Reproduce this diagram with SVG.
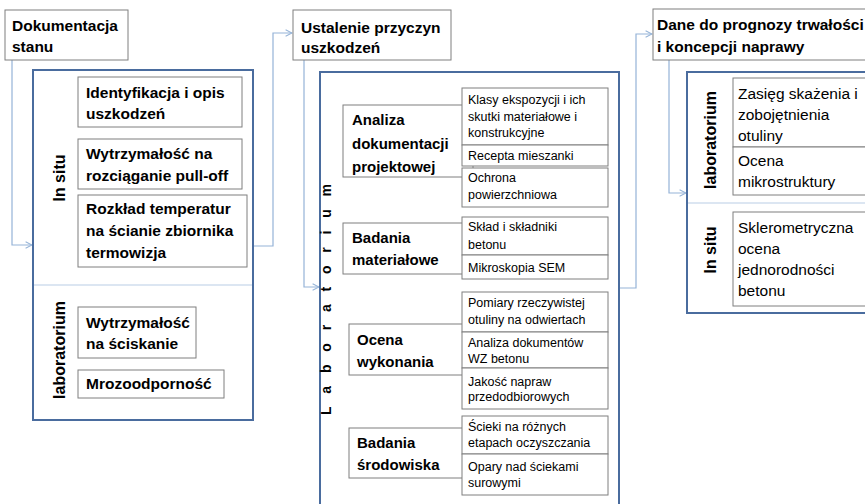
<svg xmlns="http://www.w3.org/2000/svg" width="865" height="504" viewBox="0 0 865 504">
<defs>
<style>
text{font-family:"Liberation Sans",Arial,sans-serif;fill:#000}
.t{font-size:15.5px;font-weight:bold}
.b{font-size:15.5px;font-weight:bold}
.m{font-size:15px;font-weight:bold}
.s{font-size:12.5px}
.r{font-size:15.5px}
.v{font-size:16px;font-weight:bold}
.box{fill:#fff;stroke:#7f7f7f;stroke-width:1}
.outer{fill:#fff;stroke:#4a6c9e;stroke-width:2}
.div{stroke:#b9cde5;stroke-width:1.2}
.con{fill:none;stroke:#95b3d7;stroke-width:1.2}
</style>
<marker id="arr" viewBox="0 0 10 10" refX="9" refY="5" markerWidth="8" markerHeight="8" markerUnits="userSpaceOnUse" orient="auto">
<path d="M1,1 L9,5 L1,9" fill="none" stroke="#95b3d7" stroke-width="1.3"/>
</marker>
</defs>
<rect width="865" height="504" fill="#fff"/>

<g id="connectors">
<path class="con" d="M12,60 V245 H32" marker-end="url(#arr)"/>
<path class="con" d="M253,246 H273 V33 H292" marker-end="url(#arr)"/>
<path class="con" d="M304,60 V287 H319" marker-end="url(#arr)"/>
<path class="con" d="M619,288 H636 V34 H652" marker-end="url(#arr)"/>
<path class="con" d="M669,60 V193 H686" marker-end="url(#arr)"/>
</g>

<g id="title-dokumentacja">
<rect class="box" x="5" y="10" width="123" height="50"/>
<text class="t" x="12" y="31">Dokumentacja</text>
<text class="t" x="12" y="52">stanu</text>
</g>

<g id="left-panel">
<rect class="outer" x="33" y="70" width="220" height="350"/>
<line class="div" x1="34" y1="285" x2="252" y2="285"/>
<text class="v" transform="translate(65,178) rotate(-90)" text-anchor="middle">In situ</text>
<text class="v" transform="translate(65,350) rotate(-90)" text-anchor="middle">laboratorium</text>
</g>

<g id="identyfikacja">
<rect class="box" x="78" y="77" width="164" height="50"/>
<text class="b" x="86" y="98">Identyfikacja i opis</text>
<text class="b" x="86" y="119">uszkodzeń</text>
</g>
<g id="pull-off">
<rect class="box" x="78" y="139" width="164" height="50"/>
<text class="b" x="86" y="159">Wytrzymałość na</text>
<text class="b" x="86" y="181">rozciąganie pull-off</text>
</g>
<g id="rozklad">
<rect class="box" x="78" y="195" width="169" height="72"/>
<text class="b" x="86" y="214">Rozkład temperatur</text>
<text class="b" x="86" y="236">na ścianie zbiornika</text>
<text class="b" x="86" y="258">termowizja</text>
</g>
<g id="sciskanie">
<rect class="box" x="78" y="307" width="118" height="51"/>
<text class="b" x="86" y="328">Wytrzymałość</text>
<text class="b" x="86" y="349">na ściskanie</text>
</g>
<g id="mrozoodpornosc">
<rect class="box" x="78" y="370" width="146" height="28"/>
<text class="b" x="86" y="389">Mrozoodporność</text>
</g>

<g id="title-ustalenie">
<rect class="box" x="293" y="10" width="158" height="50"/>
<text class="t" x="301" y="33">Ustalenie przyczyn</text>
<text class="t" x="301" y="53">uszkodzeń</text>
</g>

<g id="middle-panel">
<rect class="outer" x="320" y="72" width="299" height="460"/>
<text transform="translate(331,415) rotate(-90)" style="font-size:14px;font-weight:bold;letter-spacing:12.8px">Laboratorium</text>
</g>

<g id="analiza-dok">
<rect class="box" x="343" y="105" width="130" height="72"/>
<text class="m" x="352" y="125">Analiza</text>
<text class="m" x="352" y="149">dokumentacji</text>
<text class="m" x="352" y="172">projektowej</text>
</g>
<g id="klasy">
<rect class="box" x="462" y="88" width="146" height="57"/>
<text class="s" x="468" y="104">Klasy ekspozycji i ich</text>
<text class="s" x="468" y="121">skutki materiałowe i</text>
<text class="s" x="468" y="137">konstrukcyjne</text>
</g>
<g id="recepta">
<rect class="box" x="462" y="145" width="146" height="21"/>
<text class="s" x="468" y="160">Recepta mieszanki</text>
</g>
<g id="ochrona">
<rect class="box" x="462" y="168" width="146" height="39"/>
<text class="s" x="468" y="182">Ochrona</text>
<text class="s" x="468" y="199">powierzchniowa</text>
</g>

<g id="badania-mat">
<rect class="box" x="343" y="223" width="130" height="51"/>
<text class="m" x="352" y="243">Badania</text>
<text class="m" x="352" y="265">materiałowe</text>
</g>
<g id="sklad">
<rect class="box" x="462" y="217" width="146" height="38"/>
<text class="s" x="468" y="231">Skład i składniki</text>
<text class="s" x="468" y="249">betonu</text>
</g>
<g id="sem">
<rect class="box" x="462" y="255" width="146" height="24"/>
<text class="s" x="468" y="272">Mikroskopia SEM</text>
</g>

<g id="ocena-wyk">
<rect class="box" x="349" y="324" width="124" height="51"/>
<text class="m" x="357" y="345">Ocena</text>
<text class="m" x="357" y="367">wykonania</text>
</g>
<g id="pomiary">
<rect class="box" x="462" y="292" width="146" height="40"/>
<text class="s" x="468" y="307">Pomiary rzeczywistej</text>
<text class="s" x="468" y="324">otuliny na odwiertach</text>
</g>
<g id="wz">
<rect class="box" x="462" y="332" width="146" height="36"/>
<text class="s" x="468" y="347">Analiza dokumentów</text>
<text class="s" x="468" y="363">WZ betonu</text>
</g>
<g id="naprawy">
<rect class="box" x="462" y="368" width="146" height="41"/>
<text class="s" x="468" y="386">Jakość napraw</text>
<text class="s" x="468" y="401">przedodbiorowych</text>
</g>

<g id="badania-sr">
<rect class="box" x="349" y="428" width="124" height="50"/>
<text class="m" x="357" y="448">Badania</text>
<text class="m" x="357" y="470">środowiska</text>
</g>
<g id="scieki">
<rect class="box" x="462" y="416" width="146" height="38"/>
<text class="s" x="468" y="431">Ścieki na różnych</text>
<text class="s" x="468" y="447">etapach oczyszczania</text>
</g>
<g id="opary">
<rect class="box" x="462" y="454" width="146" height="41"/>
<text class="s" x="468" y="471">Opary nad ściekami</text>
<text class="s" x="468" y="487">surowymi</text>
</g>

<g id="title-dane">
<rect class="box" x="653" y="9" width="230" height="51"/>
<text class="t" x="657" y="30">Dane do prognozy trwałości</text>
<text class="t" x="657" y="52">i koncepcji naprawy</text>
</g>

<g id="right-panel">
<rect class="outer" x="687" y="72" width="200" height="241"/>
<line class="div" x1="688" y1="203" x2="865" y2="203"/>
<text class="v" transform="translate(716,140) rotate(-90)" text-anchor="middle">laboratorium</text>
<text class="v" transform="translate(716,250) rotate(-90)" text-anchor="middle">In situ</text>
</g>
<g id="zasieg">
<rect class="box" x="733" y="78" width="150" height="69"/>
<text class="r" x="738" y="99">Zasięg skażenia i</text>
<text class="r" x="738" y="120">zobojętnienia</text>
<text class="r" x="738" y="141">otuliny</text>
</g>
<g id="mikrostruktura">
<rect class="box" x="733" y="147" width="150" height="48"/>
<text class="r" x="738" y="166">Ocena</text>
<text class="r" x="738" y="187">mikrostruktury</text>
</g>
<g id="sklerometryczna">
<rect class="box" x="733" y="212" width="150" height="94"/>
<text class="r" x="738" y="233">Sklerometryczna</text>
<text class="r" x="738" y="254">ocena</text>
<text class="r" x="738" y="275">jednorodności</text>
<text class="r" x="738" y="296">betonu</text>
</g>
</svg>
